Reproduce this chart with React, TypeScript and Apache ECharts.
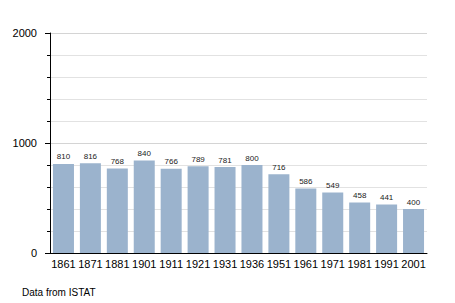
import React, { useEffect, useRef } from "react";
import * as echarts from "echarts";

const categories = ["1861", "1871", "1881", "1901", "1911", "1921", "1931", "1936", "1951", "1961", "1971", "1981", "1991", "2001"];
const population = [810, 816, 768, 840, 766, 789, 781, 800, 716, 586, 549, 458, 441, 400];
const yTicks = [0, 1000, 2000];
const sourceNote = "Data from ISTAT";

export default function App() {
  const ref = useRef<HTMLDivElement>(null);
  useEffect(() => {
    if (!ref.current) return;
    const chart = echarts.init(ref.current, null, { renderer: "svg" });
    chart.setOption({
      animation: false,
      textStyle: { fontFamily: "Liberation Sans, Arial, sans-serif" },
      grid: { left: 50, right: 28, top: 33, bottom: 50, containLabel: false },
      xAxis: {
        type: "category",
        data: categories,
        axisLine: { show: true, lineStyle: { color: "#000", width: 1 } },
        axisTick: { show: false },
        axisLabel: { color: "#000", fontSize: 11, margin: 5, interval: 0, hideOverlap: false },
      },
      yAxis: {
        type: "value",
        min: 0,
        max: 2000,
        interval: 1000,
        axisLine: { show: true, lineStyle: { color: "#000", width: 1 } },
        axisTick: { show: true, length: 5, lineStyle: { color: "#000" } },
        minorTick: { show: true, splitNumber: 5, length: 3, lineStyle: { color: "#000" } },
        splitLine: { show: true, lineStyle: { color: "#d4d4d4", width: 1 } },
        minorSplitLine: { show: true, lineStyle: { color: "#e2e2e2", width: 1 } },
        axisLabel: {
          color: "#000",
          fontSize: 11,
          margin: 13,
          formatter: (v: number) => (yTicks.includes(v) ? String(v) : ""),
        },
      },
      series: [
        {
          type: "bar",
          data: population,
          barCategoryGap: "22%",
          itemStyle: { color: "#9bb3cd" },
          label: { show: true, position: "top", fontSize: 8, color: "#222", distance: 3 },
        },
      ],
      graphic: [
        {
          type: "text",
          left: 22,
          top: 287,
          style: { text: sourceNote, fontSize: 10, fill: "#000", fontFamily: "Liberation Sans, Arial, sans-serif" },
        },
      ],
    });
    return () => chart.dispose();
  }, []);
  return <div ref={ref} style={{ position: "fixed", left: 0, top: 0, width: 455, height: 303, background: "#fff" }} />;
}
